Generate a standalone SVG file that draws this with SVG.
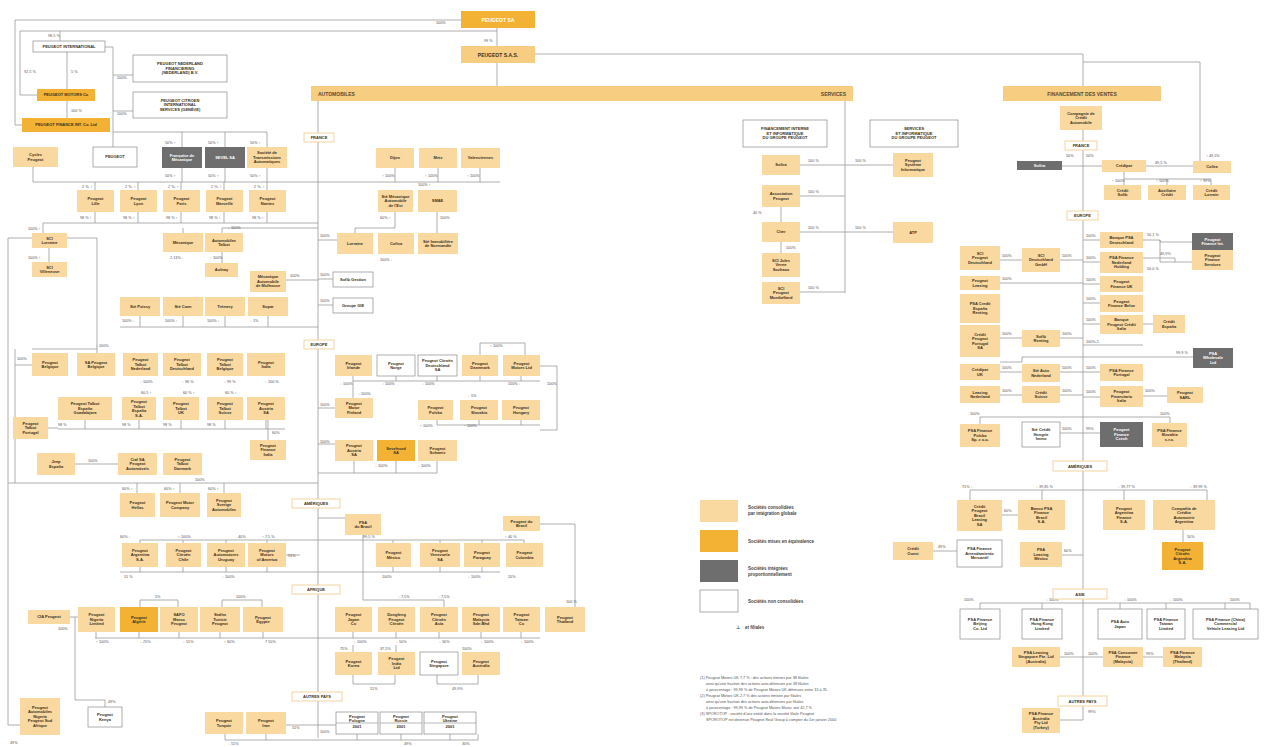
<svg xmlns="http://www.w3.org/2000/svg" width="1265" height="747" viewBox="0 0 1265 747">
<defs>
<marker id="a" viewBox="0 0 6 6" refX="6" refY="3" markerWidth="4" markerHeight="4" orient="auto"><path d="M0,0L6,3L0,6z" fill="#8a8a8a"/></marker>
<style>
.b{fill:#fad9a0}.b2{fill:#f7cd82}.o{fill:#f3b234}.d{fill:#6e6e6e}.w{fill:#fff;stroke:#8a8a8a;stroke-width:.7}
.sec{fill:#fff;stroke:#f2d3a0;stroke-width:1}
text{font-family:"Liberation Sans",Arial,sans-serif}
.t{font-size:4px;fill:#3a3020;text-anchor:middle;font-weight:bold}
.tw{fill:#fff}
.h{font-size:5px;font-weight:bold;fill:#5a4a30}
.p{font-size:3.8px;fill:#555}
.c{fill:none;stroke:#9a9a9a;stroke-width:.8}
.lg{font-size:4.5px;fill:#444;font-weight:bold}
.fn{font-size:3.8px;fill:#555}
</style>
</defs>
<rect width="1265" height="747" fill="#fff"/>

<g id="connectors">
<path class="c" d="M461,20H15V125H22"/>
<path class="c" d="M497,28V46M497,63V86"/>
<path class="c" d="M535,54H1083V86"/>
<path class="c" d="M1083,62H1200V161"/>
<path class="c" d="M497,31H20V95H37"/>
<path class="c" d="M60,31V41M67,52V89M67,101V118"/>
<path class="c" d="M105,47H113V147M113,75H133M113,111H133"/>
<path class="c" d="M113,132H267M182,132V147M225,132V147M267,132V147"/>
<path class="c" d="M33,167V182H500M95,182V190M138,182V190M181,182V190M224,182V190M267,182V190M182,182V168M225,182V168M267,182V168M395,182V168M438,182V168M480,182V168"/>
<path class="c" d="M43,223H318M95,223V212M138,223V212M181,223V212M224,223V212M267,223V212M43,223V233M49,248V262"/>
<path class="c" d="M8,238H97V353M8,238V725H20"/>
<path class="c" d="M15,349V483M15,365H32"/>
<path class="c" d="M318,228H222V233M222,252V263M183,228V233M318,280H286"/>
<path class="c" d="M120,327H318M140,327V316M183,327V316M225,327V316M268,327V316"/>
<path class="c" d="M318,101V738"/>
<path class="c" d="M318,240H337M437,212V233M395,212V228H355V233M318,279H333M318,305H333"/>
<path class="c" d="M845,101V293M845,165H800M845,196H800M845,232H800M845,292H800M845,165H893M845,232H893M781,207V222M781,242V253"/>
<path class="c" d="M1083,130V720"/>
<path class="c" d="M1083,166H1062M1083,166H1102M1146,166H1193M1124,172V179H1211V185M1124,179V185M1167,179V185"/>
<path class="c" d="M1083,240H1100M1083,262H1100M1083,284H1100M1083,303H1100M1083,324H1100M1083,372H1100M1083,397H1100M1083,345H1143"/>
<path class="c" d="M1143,240H1160V242H1192M1160,240V262H1192M1143,258H1175V262"/>
<path class="c" d="M1143,324H1153M1143,396H1167"/>
<path class="c" d="M1083,260H1060M1022,260H1000M1083,283H1000M1083,338H1060M1022,338H1000M1083,372H1060M1022,372H1000M1083,395H1060M1022,395H1000"/>
<path class="c" d="M1000,362H1022V357H1193"/>
<path class="c" d="M980,424V417H1170V423M1083,433H1060M1083,433H1100"/>
<path class="c" d="M970,500V490H1207V500M1042,490V500M1124,490V500M1002,515H1018M933,551H957M1062,555H1083M1183,530V542"/>
<path class="c" d="M980,609V603H1250V609M1042,603V609M1120,603V609M1166,603V609M1225,603V609"/>
<path class="c" d="M1060,657H1103M1143,657H1163M1083,720H1060"/>
<path class="c" d="M32,349H97M353,381H540M353,376V381M396,376V381M437,376V381M480,376V381M521,376V381M480,343H525V355M480,343V355M540,366H557V430H540"/>
<path class="c" d="M58,429H285M85,420V429M139,420V429M181,420V429M225,420V429M266,420V429M268,420V440M48,428H58"/>
<path class="c" d="M75,464H118M8,483H318M137,483V493M180,483V493M224,483V493"/>
<path class="c" d="M353,381V398M318,408H335M437,425H540M437,420V425M479,420V425M521,420V425M318,444H335M318,473H437M354,461V473M396,461V473M437,461V473"/>
<path class="c" d="M318,518H345M363,535V540H140V543M183,540V543M226,540V543M267,540V543M363,540H524V543M393,540V543M440,540V543M482,540V543"/>
<path class="c" d="M540,524H575V607M363,540V600H444V607"/>
<path class="c" d="M120,572H500M140,567V572M183,567V572M226,567V572M267,567V572M393,567V572M440,567V572M482,567V572M300,555H286"/>
<path class="c" d="M70,617H78M75,617V700H105V707"/>
<path class="c" d="M95,638H540M96,632V638M139,632V638M179,632V638M220,632V638M263,632V638M353,632V638M396,632V638M439,632V638M481,632V638M521,632V638"/>
<path class="c" d="M140,600H178V607M140,600V607M222,600H262V607M222,600V607"/>
<path class="c" d="M353,675V684H395V675M437,675V684H478V675M353,645V652M396,645V652"/>
<path class="c" d="M318,725H286M318,725H336M225,734V740H478V734M266,734V740M357,734V740M401,734V740M450,734V740"/>
</g>

<g id="pct">
<text class="p" x="436" y="24">100%</text><text class="p" x="484" y="42">99 %</text>
<text class="p" x="48" y="37">98,5 %</text><text class="p" x="24" y="73">92,5 %</text><text class="p" x="71" y="73">5 %</text><text class="p" x="71" y="112">100 %</text>
<text class="p" x="117" y="79">100%</text><text class="p" x="117" y="115">100%</text>
<text class="p" x="165" y="144">50% ↑</text><text class="p" x="208" y="144">50% ↑</text><text class="p" x="250" y="144">50% ↑</text>
<text class="p" x="165" y="177">50% ↑</text><text class="p" x="208" y="177">50% ↑</text><text class="p" x="250" y="177">50% ↑</text>
<text class="p" x="82" y="188">2 %, ↑</text><text class="p" x="125" y="188">2 %, ↑</text><text class="p" x="168" y="188">2 %, ↑</text><text class="p" x="211" y="188">2 %, ↑</text><text class="p" x="254" y="188">2 %, ↑</text>
<text class="p" x="80" y="219">98 % ↑</text><text class="p" x="123" y="219">98 % ↑</text><text class="p" x="166" y="219">98 % ↑</text><text class="p" x="209" y="219">98 % ↑</text><text class="p" x="252" y="219">98 % ↑</text>
<text class="p" x="28" y="230">100% ↑</text><text class="p" x="28" y="259">100% ↑</text>
<text class="p" x="228" y="229">↓ 100%</text><text class="p" x="170" y="259">2,13% ↓</text><text class="p" x="210" y="259">↓ 100%</text><text class="p" x="290" y="277">100%</text>
<text class="p" x="122" y="322">100% ↓</text><text class="p" x="165" y="322">100% ↓</text><text class="p" x="207" y="322">100% ↓</text><text class="p" x="250" y="322">↓ 1%</text>
<text class="p" x="382" y="177">↑ 100%</text><text class="p" x="425" y="177">↑ 100%</text><text class="p" x="467" y="177">↑ 100%</text>
<text class="p" x="418" y="186">100% ↑</text><text class="p" x="380" y="219">60% ↑</text><text class="p" x="440" y="219">100%</text>
<text class="p" x="320" y="237">100%</text><text class="p" x="380" y="261">100% ↓</text>
<text class="p" x="320" y="276">100%</text><text class="p" x="320" y="302">100%</text>
<text class="p" x="808" y="162">100 %</text><text class="p" x="808" y="193">100 %</text><text class="p" x="808" y="229">100 %</text><text class="p" x="808" y="289">100 %</text>
<text class="p" x="855" y="162">100 %</text><text class="p" x="855" y="229">100 %</text><text class="p" x="753" y="214">40 %</text><text class="p" x="786" y="249">100%</text>
<text class="p" x="1066" y="157">50%</text><text class="p" x="1086" y="157">50%</text><text class="p" x="1155" y="164">49,5 %</text><text class="p" x="1206" y="157">↑ 49,5%</text>
<text class="p" x="1112" y="182">↑ 100%</text><text class="p" x="1156" y="182">↑ 100%</text><text class="p" x="1200" y="182">↑ 99%</text>
<text class="p" x="1086" y="237">100%</text><text class="p" x="1086" y="259">100%</text><text class="p" x="1086" y="281">100%</text><text class="p" x="1086" y="300">100%</text><text class="p" x="1086" y="321">100%</text>
<text class="p" x="1147" y="236">50,1 %</text><text class="p" x="1160" y="255">49,9%</text><text class="p" x="1147" y="270">50,0 %</text>
<text class="p" x="1062" y="257">100%</text><text class="p" x="1002" y="257">100%</text><text class="p" x="1002" y="280">100%</text><text class="p" x="1062" y="335">100%</text><text class="p" x="1002" y="335">100%</text>
<text class="p" x="1062" y="369">100%</text><text class="p" x="1002" y="369">100%</text><text class="p" x="1062" y="392">100%</text><text class="p" x="1002" y="392">100%</text>
<text class="p" x="1086" y="369">100%</text><text class="p" x="1086" y="393">100%</text><text class="p" x="1145" y="392">100%</text><text class="p" x="1176" y="354">99,9 %</text>
<text class="p" x="1086" y="343">100%,1</text><text class="p" x="970" y="415">100%</text><text class="p" x="1160" y="415">100%</text>
<text class="p" x="1062" y="430">100%</text><text class="p" x="1086" y="430">99%</text>
<text class="p" x="962" y="488">71% ↓</text><text class="p" x="1036" y="488">↓ 39,85 %</text><text class="p" x="1118" y="488">↓ 39,77 %</text><text class="p" x="1190" y="488">↓ 39,99 %</text>
<text class="p" x="1004" y="512">60%</text><text class="p" x="938" y="548">49%</text><text class="p" x="1064" y="552">60%</text><text class="p" x="1187" y="538">50%</text>
<text class="p" x="964" y="601">100%</text><text class="p" x="1046" y="601">↓ 100%</text><text class="p" x="1124" y="601">↓ 100%</text><text class="p" x="1170" y="601">↓ 100%</text><text class="p" x="1230" y="601">100%</text>
<text class="p" x="1064" y="655">100%</text><text class="p" x="1088" y="655">100%</text><text class="p" x="1146" y="655">99%</text><text class="p" x="1088" y="713">99%</text>
<text class="p" x="96" y="347">↓ 100%</text><text class="p" x="17" y="360">100%</text>
<text class="p" x="140" y="383">↓ 100%</text><text class="p" x="182" y="383">↓ 96 %</text><text class="p" x="224" y="383">↓ 99 %</text><text class="p" x="265" y="383">↓ 100 %</text>
<text class="p" x="141" y="394">60,5 ↑</text><text class="p" x="183" y="394">60 % ↑</text><text class="p" x="225" y="394">60 % ↑</text>
<text class="p" x="58" y="426">98 %</text><text class="p" x="122" y="426">98 %</text><text class="p" x="163" y="426">98 %</text><text class="p" x="207" y="426">98 %</text>
<text class="p" x="272" y="434">60%</text><text class="p" x="88" y="462">100%</text>
<text class="p" x="122" y="490">60% ↑</text><text class="p" x="164" y="490">60% ↑</text><text class="p" x="208" y="490">60% ↑</text><text class="p" x="195" y="481">100%</text>
<text class="p" x="490" y="347">↑ 100%</text><text class="p" x="340" y="385">↓ 100%</text><text class="p" x="382" y="385">↓ 100%</text><text class="p" x="422" y="385">↓ 100%</text><text class="p" x="508" y="385">100% ↓</text>
<text class="p" x="358" y="395">↓ 100%</text><text class="p" x="547" y="385">100%</text><text class="p" x="468" y="397">↓ 5%</text>
<text class="p" x="420" y="427">↑ 100%</text><text class="p" x="464" y="427">↑ 100%</text><text class="p" x="320" y="406">100%</text>
<text class="p" x="320" y="443">100%</text><text class="p" x="375" y="467">↓ 100%</text><text class="p" x="418" y="467">↓ 100%</text>
<text class="p" x="120" y="538">60% ↓</text><text class="p" x="178" y="538">↑ 100%</text><text class="p" x="238" y="538">40%</text><text class="p" x="262" y="538">↑ 7,5 %</text>
<text class="p" x="288" y="557">51%</text><text class="p" x="363" y="538">99,5 %</text><text class="p" x="505" y="538">↑ 40 %</text>
<text class="p" x="124" y="578">51 %</text><text class="p" x="222" y="578">↓ 100%</text><text class="p" x="382" y="578">100%</text><text class="p" x="468" y="578">↓ 100%</text><text class="p" x="508" y="578">20%</text>
<text class="p" x="155" y="598">1%</text><text class="p" x="236" y="598">100%</text><text class="p" x="566" y="603">100 %</text><text class="p" x="398" y="598">↓ 7,5%</text><text class="p" x="438" y="598">↓ 7,5%</text>
<text class="p" x="58" y="630">100%</text><text class="p" x="96" y="643">↑ 100%</text><text class="p" x="140" y="643">↓ 25%</text><text class="p" x="183" y="643">↓ 51%</text><text class="p" x="224" y="643">↑ 60%</text><text class="p" x="265" y="643">7 50%</text>
<text class="p" x="354" y="643">↓ 100%</text><text class="p" x="396" y="643">↓ 50%</text><text class="p" x="439" y="643">↓ 30%</text><text class="p" x="481" y="643">↓ 100%</text><text class="p" x="521" y="643">↓ 100%</text>
<text class="p" x="340" y="650">75%</text><text class="p" x="380" y="650">37,5%</text><text class="p" x="462" y="650">100%</text>
<text class="p" x="370" y="690">51%</text><text class="p" x="452" y="690">49,9%</text>
<text class="p" x="108" y="703">49%</text><text class="p" x="10" y="744">49%</text>
<text class="p" x="292" y="729">51%</text><text class="p" x="320" y="733">100%</text><text class="p" x="228" y="745">↓ 51%</text><text class="p" x="404" y="745">49%</text><text class="p" x="462" y="745">30%</text>
</g>

<g id="n_psa"><rect class="o" x="461" y="11" width="74" height="17"/><text class="t tw" x="498" y="21.8" style="font-size:5px">PEUGEOT SA</text></g>
<g id="n_psas"><rect class="b2" x="461" y="46" width="74" height="17"/><text class="t" x="498" y="56.8" style="font-size:5px">PEUGEOT S.A.S.</text></g>
<g id="n_pint"><rect class="w" x="33" y="41" width="72" height="11"/><text class="t" x="69" y="48">PEUGEOT INTERNATIONAL</text></g>
<g id="n_pmot"><rect class="o" x="37" y="89" width="58" height="12"/><text class="t" x="66" y="96.4">PEUGEOT MOTORS Co</text></g>
<g id="n_pfin"><rect class="o" x="22" y="118" width="88" height="14"/><text class="t" x="66" y="126.4">PEUGEOT FINANCE INT. Co. Ltd</text></g>
<g id="n_pned"><rect class="w" x="133" y="55" width="94" height="27"/><text class="t" x="180" y="65.4">PEUGEOT NEDERLAND<tspan x="180" dy="4.5">FINANCIERING</tspan><tspan x="180" dy="4.5">(NEDERLAND) B.V.</tspan></text></g>
<g id="n_pcis"><rect class="w" x="133" y="92" width="94" height="26"/><text class="t" x="180" y="101.9">PEUGEOT CITROËN<tspan x="180" dy="4.5">INTERNATIONAL</tspan><tspan x="180" dy="4.5">SERVICES (GENÈVE)</tspan></text></g>

<g id="n_bar_auto"><rect class="b2" x="311" y="86" width="542" height="15"/><text class="h" x="318" y="95.5">AUTOMOBILES</text><text class="h" x="846" y="95.5" text-anchor="end">SERVICES</text></g>
<g id="n_bar_fin"><rect class="b2" x="1003" y="86" width="158" height="15"/><text class="h" x="1082" y="95.5" text-anchor="middle">FINANCEMENT DES VENTES</text></g>

<g id="sec_fr"><rect class="sec" x="304" y="133" width="30" height="9"/><text class="t" x="319" y="139.4">FRANCE</text></g>
<g id="sec_eu"><rect class="sec" x="304" y="340" width="30" height="9"/><text class="t" x="319" y="346.4">EUROPE</text></g>
<g id="sec_am"><rect class="sec" x="292" y="499" width="48" height="9"/><text class="t" x="316" y="505.4">AMÉRIQUES</text></g>
<g id="sec_af"><rect class="sec" x="292" y="585" width="48" height="9"/><text class="t" x="316" y="591.4">AFRIQUE</text></g>
<g id="sec_ap"><rect class="sec" x="292" y="692" width="50" height="9"/><text class="t" x="317" y="698.4">AUTRES PAYS</text></g>
<g id="sec_fr2"><rect class="sec" x="1065" y="141" width="32" height="9"/><text class="t" x="1081" y="147.4">FRANCE</text></g>
<g id="sec_eu2"><rect class="sec" x="1067" y="211" width="31" height="9"/><text class="t" x="1082.5" y="217.4">EUROPE</text></g>
<g id="sec_am2"><rect class="sec" x="1053" y="461" width="54" height="10"/><text class="t" x="1080" y="467.9">AMÉRIQUES</text></g>
<g id="sec_as2"><rect class="sec" x="1053" y="589" width="54" height="10"/><text class="t" x="1080" y="595.9">ASIE</text></g>
<g id="sec_ap2"><rect class="sec" x="1058" y="696" width="49" height="10"/><text class="t" x="1082.5" y="702.9">AUTRES PAYS</text></g>

<g id="n_a1"><rect class="b" x="13" y="147" width="45" height="20"/><text class="t" x="35.5" y="156.2">Cycles<tspan x="35.5" dy="4.5">Peugeot</tspan></text></g>
<g id="n_a2"><rect class="w" x="93" y="147" width="44" height="20"/><text class="t" x="115" y="158.4">PEUGEOT</text></g>
<g id="n_a3"><rect class="d" x="162" y="147" width="40" height="21"/><text class="t tw" x="182" y="156.7">Française de<tspan x="182" dy="4.5">Mécanique</tspan></text></g>
<g id="n_a4"><rect class="d" x="205" y="147" width="40" height="21"/><text class="t tw" x="225" y="158.9">SEVEL SA</text></g>
<g id="n_a5"><rect class="b" x="247" y="147" width="40" height="21"/><text class="t" x="267" y="154.4">Société de<tspan x="267" dy="4.5">Transmissions</tspan><tspan x="267" dy="4.5">Automatiques</tspan></text></g>

<g id="n_p1"><rect class="b" x="77" y="190" width="37" height="22"/><text class="t" x="95.5" y="200.2">Peugeot<tspan x="95.5" dy="4.5">Lille</tspan></text></g>
<g id="n_p2"><rect class="b" x="120" y="190" width="37" height="22"/><text class="t" x="138.5" y="200.2">Peugeot<tspan x="138.5" dy="4.5">Lyon</tspan></text></g>
<g id="n_p3"><rect class="b" x="163" y="190" width="37" height="22"/><text class="t" x="181.5" y="200.2">Peugeot<tspan x="181.5" dy="4.5">Paris</tspan></text></g>
<g id="n_p4"><rect class="b" x="206" y="190" width="37" height="22"/><text class="t" x="224.5" y="200.2">Peugeot<tspan x="224.5" dy="4.5">Marseille</tspan></text></g>
<g id="n_p5"><rect class="b" x="249" y="190" width="37" height="22"/><text class="t" x="267.5" y="200.2">Peugeot<tspan x="267.5" dy="4.5">Nantes</tspan></text></g>

<g id="n_s1"><rect class="b" x="32" y="233" width="35" height="15"/><text class="t" x="49.5" y="239.7">SCI<tspan x="49.5" dy="4.5">Lorraine</tspan></text></g>
<g id="n_s2"><rect class="b" x="32" y="262" width="35" height="15"/><text class="t" x="49.5" y="268.7">SCI<tspan x="49.5" dy="4.5">Villeneuve</tspan></text></g>
<g id="n_m1"><rect class="b" x="163" y="233" width="40" height="19"/><text class="t" x="183" y="244">Mécanique</text></g>
<g id="n_m2"><rect class="b" x="205" y="233" width="38" height="19"/><text class="t" x="224" y="241.7">Automobiles<tspan x="224" dy="4.5">Talbot</tspan></text></g>
<g id="n_m3"><rect class="b" x="205" y="263" width="33" height="14"/><text class="t" x="221.5" y="271.4">Aulnay</text></g>
<g id="n_m4"><rect class="b" x="250" y="271" width="36" height="21"/><text class="t" x="268" y="278.4">Mécanique<tspan x="268" dy="4.5">Automobile</tspan><tspan x="268" dy="4.5">de Mulhouse</tspan></text></g>
<g id="n_r1"><rect class="b" x="120" y="297" width="40" height="19"/><text class="t" x="140" y="307.9">Sté Poissy</text></g>
<g id="n_r2"><rect class="b" x="163" y="297" width="40" height="19"/><text class="t" x="183" y="307.9">Sté Caen</text></g>
<g id="n_r3"><rect class="b" x="205" y="297" width="40" height="19"/><text class="t" x="225" y="307.9">Trémery</text></g>
<g id="n_r4"><rect class="b" x="248" y="297" width="40" height="19"/><text class="t" x="268" y="307.9">Sopar</text></g>

<g id="n_f1"><rect class="b" x="376" y="148" width="38" height="20"/><text class="t" x="395" y="159.4">Dijon</text></g>
<g id="n_f2"><rect class="b" x="419" y="148" width="38" height="20"/><text class="t" x="438" y="159.4">Metz</text></g>
<g id="n_f3"><rect class="b" x="461" y="148" width="39" height="20"/><text class="t" x="480.5" y="159.4">Valenciennes</text></g>
<g id="n_f4"><rect class="b" x="378" y="190" width="35" height="22"/><text class="t" x="395.5" y="197.9">Sté Mécanique<tspan x="395.5" dy="4.5">Automobile</tspan><tspan x="395.5" dy="4.5">de l'Est</tspan></text></g>
<g id="n_f5"><rect class="b" x="418" y="190" width="39" height="22"/><text class="t" x="437.5" y="202.4">SMAE</text></g>
<g id="n_f6"><rect class="b" x="337" y="233" width="36" height="21"/><text class="t" x="355" y="244.9">Lorraine</text></g>
<g id="n_f7"><rect class="b" x="378" y="233" width="36" height="21"/><text class="t" x="396" y="244.9">Cofiva</text></g>
<g id="n_f8"><rect class="b" x="418" y="233" width="40" height="21"/><text class="t" x="438" y="242.7">Sté Immobilière<tspan x="438" dy="4.5">de Normandie</tspan></text></g>
<g id="n_f9"><rect class="w" x="333" y="272" width="40" height="15"/><text class="t" x="353" y="280.9">Sofib Gestion</text></g>
<g id="n_f10"><rect class="w" x="333" y="298" width="40" height="15"/><text class="t" x="353" y="306.9">Groupe GIE</text></g>

<g id="n_c1"><rect class="w" x="743" y="120" width="84" height="27"/><text class="t" x="785" y="130.4">FINANCEMENT INTERNE<tspan x="785" dy="4.5">ET INFORMATIQUE</tspan><tspan x="785" dy="4.5">DU GROUPE PEUGEOT</tspan></text></g>
<g id="n_c2"><rect class="w" x="870" y="120" width="88" height="27"/><text class="t" x="914" y="130.4">SERVICES<tspan x="914" dy="4.5">ET INFORMATIQUE</tspan><tspan x="914" dy="4.5">DU GROUPE PEUGEOT</tspan></text></g>
<g id="n_c3"><rect class="b" x="762" y="155" width="38" height="20"/><text class="t" x="781" y="166.4">Sofira</text></g>
<g id="n_c4"><rect class="b" x="762" y="185" width="38" height="22"/><text class="t" x="781" y="195.2">Association<tspan x="781" dy="4.5">Peugeot</tspan></text></g>
<g id="n_c5"><rect class="b" x="762" y="222" width="38" height="20"/><text class="t" x="781" y="233.4">Citer</text></g>
<g id="n_c6"><rect class="b" x="762" y="253" width="38" height="24"/><text class="t" x="781" y="261.9">SCI Jules<tspan x="781" dy="4.5">Verne</tspan><tspan x="781" dy="4.5">Sochaux</tspan></text></g>
<g id="n_c7"><rect class="b" x="762" y="282" width="38" height="22"/><text class="t" x="781" y="289.9">SCI<tspan x="781" dy="4.5">Peugeot</tspan><tspan x="781" dy="4.5">Montbéliard</tspan></text></g>
<g id="n_c8"><rect class="b" x="893" y="153" width="40" height="24"/><text class="t" x="913" y="161.9">Peugeot<tspan x="913" dy="4.5">Système</tspan><tspan x="913" dy="4.5">Informatique</tspan></text></g>
<g id="n_c9"><rect class="b" x="893" y="222" width="40" height="21"/><text class="t" x="913" y="233.9">ATP</text></g>

<g id="n_r0"><rect class="b" x="1060" y="106" width="42" height="24"/><text class="t" x="1081" y="114.9">Compagnie de<tspan x="1081" dy="4.5">Crédit</tspan><tspan x="1081" dy="4.5">Automobile</tspan></text></g>
<g id="n_rd1"><rect class="d" x="1017" y="161" width="45" height="9"/><text class="t tw" x="1039.5" y="166.9">Sofira</text></g>
<g id="n_rb1"><rect class="b" x="1102" y="160" width="44" height="12"/><text class="t" x="1124" y="167.4">Crédipar</text></g>
<g id="n_rb2"><rect class="b" x="1193" y="161" width="38" height="12"/><text class="t" x="1212" y="168.4">Cofira</text></g>
<g id="n_rb3"><rect class="b" x="1104" y="185" width="37" height="15"/><text class="t" x="1122.5" y="191.7">Crédit<tspan x="1122.5" dy="4.5">Sofib</tspan></text></g>
<g id="n_rb4"><rect class="b" x="1148" y="185" width="38" height="15"/><text class="t" x="1167" y="191.7">Auxiliaire<tspan x="1167" dy="4.5">Crédit</tspan></text></g>
<g id="n_rb5"><rect class="b" x="1193" y="185" width="37" height="15"/><text class="t" x="1211.5" y="191.7">Crédit<tspan x="1211.5" dy="4.5">Lorrain</tspan></text></g>

<g id="n_e1"><rect class="b" x="1100" y="232" width="43" height="16"/><text class="t" x="1121.5" y="239.2">Banque PSA<tspan x="1121.5" dy="4.5">Deutschland</tspan></text></g>
<g id="n_e2"><rect class="b" x="1100" y="252" width="43" height="21"/><text class="t" x="1121.5" y="259.4">PSA Finance<tspan x="1121.5" dy="4.5">Nederland</tspan><tspan x="1121.5" dy="4.5">Holding</tspan></text></g>
<g id="n_e3"><rect class="b" x="1100" y="276" width="43" height="16"/><text class="t" x="1121.5" y="283.2">Peugeot<tspan x="1121.5" dy="4.5">Finance UK</tspan></text></g>
<g id="n_e4"><rect class="b" x="1100" y="295" width="43" height="17"/><text class="t" x="1121.5" y="302.7">Peugeot<tspan x="1121.5" dy="4.5">Finance Belux</tspan></text></g>
<g id="n_e5"><rect class="b" x="1100" y="315" width="43" height="19"/><text class="t" x="1121.5" y="321.4">Banque<tspan x="1121.5" dy="4.5">Peugeot Crédit</tspan><tspan x="1121.5" dy="4.5">Italia</tspan></text></g>
<g id="n_e6"><rect class="b" x="1100" y="364" width="43" height="17"/><text class="t" x="1121.5" y="371.7">PSA Finance<tspan x="1121.5" dy="4.5">Portugal</tspan></text></g>
<g id="n_e7"><rect class="b" x="1100" y="386" width="43" height="21"/><text class="t" x="1121.5" y="393.4">Peugeot<tspan x="1121.5" dy="4.5">Finanziaria</tspan><tspan x="1121.5" dy="4.5">Italia</tspan></text></g>
<g id="n_e8"><rect class="d" x="1192" y="233" width="41" height="17"/><text class="t tw" x="1212.5" y="240.7">Peugeot<tspan x="1212.5" dy="4.5">Finance Int.</tspan></text></g>
<g id="n_e9"><rect class="b" x="1192" y="250" width="41" height="20"/><text class="t" x="1212.5" y="256.9">Peugeot<tspan x="1212.5" dy="4.5">Finance</tspan><tspan x="1212.5" dy="4.5">Services</tspan></text></g>
<g id="n_e10"><rect class="b" x="1153" y="315" width="32" height="18"/><text class="t" x="1169" y="323.2">Crédit<tspan x="1169" dy="4.5">España</tspan></text></g>
<g id="n_e11"><rect class="d" x="1193" y="348" width="40" height="20"/><text class="t tw" x="1213" y="354.9">PSA<tspan x="1213" dy="4.5">Wholesale</tspan><tspan x="1213" dy="4.5">Ltd</tspan></text></g>
<g id="n_e12"><rect class="b" x="1167" y="387" width="36" height="16"/><text class="t" x="1185" y="394.2">Peugeot<tspan x="1185" dy="4.5">SARL</tspan></text></g>
<g id="n_l1"><rect class="b" x="960" y="246" width="40" height="24"/><text class="t" x="980" y="254.9">SCI<tspan x="980" dy="4.5">Peugeot</tspan><tspan x="980" dy="4.5">Deutschland</tspan></text></g>
<g id="n_l2"><rect class="b" x="960" y="276" width="40" height="14"/><text class="t" x="980" y="282.2">Peugeot<tspan x="980" dy="4.5">Leasing</tspan></text></g>
<g id="n_l3"><rect class="b" x="960" y="294" width="40" height="29"/><text class="t" x="980" y="305.4">PSA Credit<tspan x="980" dy="4.5">España</tspan><tspan x="980" dy="4.5">Renting</tspan></text></g>
<g id="n_l4"><rect class="b" x="960" y="325" width="40" height="32"/><text class="t" x="980" y="335.7">Crédit<tspan x="980" dy="4.5">Peugeot</tspan><tspan x="980" dy="4.5">Portugal</tspan><tspan x="980" dy="4.5">SA</tspan></text></g>
<g id="n_l5"><rect class="b" x="960" y="364" width="40" height="16"/><text class="t" x="980" y="371.2">Crédipar<tspan x="980" dy="4.5">UK</tspan></text></g>
<g id="n_l6"><rect class="b" x="960" y="386" width="40" height="17"/><text class="t" x="980" y="393.7">Leasing<tspan x="980" dy="4.5">Nederland</tspan></text></g>
<g id="n_l7"><rect class="b" x="960" y="424" width="40" height="23"/><text class="t" x="980" y="432.4">PSA Finance<tspan x="980" dy="4.5">Polska</tspan><tspan x="980" dy="4.5">Sp. z o.o.</tspan></text></g>
<g id="n_k1"><rect class="b" x="1022" y="248" width="38" height="24"/><text class="t" x="1041" y="256.9">SCI<tspan x="1041" dy="4.5">Deutschland</tspan><tspan x="1041" dy="4.5">GmbH</tspan></text></g>
<g id="n_k2"><rect class="b" x="1022" y="330" width="38" height="17"/><text class="t" x="1041" y="337.7">Sofib<tspan x="1041" dy="4.5">Renting</tspan></text></g>
<g id="n_k3"><rect class="b" x="1022" y="364" width="38" height="18"/><text class="t" x="1041" y="372.2">Sté Auto<tspan x="1041" dy="4.5">Nederland</tspan></text></g>
<g id="n_k4"><rect class="b" x="1022" y="386" width="38" height="17"/><text class="t" x="1041" y="393.7">Crédit<tspan x="1041" dy="4.5">Suisse</tspan></text></g>
<g id="n_k5"><rect class="w" x="1022" y="422" width="38" height="25"/><text class="t" x="1041" y="431.4">Sté Crédit<tspan x="1041" dy="4.5">Hongrie</tspan><tspan x="1041" dy="4.5">Immo</tspan></text></g>
<g id="n_d1"><rect class="d" x="1100" y="422" width="43" height="25"/><text class="t tw" x="1121.5" y="431.4">Peugeot<tspan x="1121.5" dy="4.5">Finance</tspan><tspan x="1121.5" dy="4.5">Czech</tspan></text></g>
<g id="n_e13"><rect class="b" x="1152" y="423" width="35" height="24"/><text class="t" x="1169.5" y="431.9">PSA Finance<tspan x="1169.5" dy="4.5">Slovakia</tspan><tspan x="1169.5" dy="4.5">s.r.o.</tspan></text></g>

<g id="n_am1"><rect class="b" x="957" y="500" width="45" height="31"/><text class="t" x="979.5" y="507.9">Crédit<tspan x="979.5" dy="4.5">Peugeot</tspan><tspan x="979.5" dy="4.5">Brasil</tspan><tspan x="979.5" dy="4.5">Leasing</tspan><tspan x="979.5" dy="4.5">SA</tspan></text></g>
<g id="n_am2"><rect class="b" x="1018" y="500" width="47" height="30"/><text class="t" x="1041.5" y="509.7">Banco PSA<tspan x="1041.5" dy="4.5">Finance</tspan><tspan x="1041.5" dy="4.5">Brasil</tspan><tspan x="1041.5" dy="4.5">S.A.</tspan></text></g>
<g id="n_am3"><rect class="b" x="1103" y="500" width="42" height="30"/><text class="t" x="1124" y="509.7">Peugeot<tspan x="1124" dy="4.5">Argentina</tspan><tspan x="1124" dy="4.5">Finance</tspan><tspan x="1124" dy="4.5">S.A.</tspan></text></g>
<g id="n_am4"><rect class="b" x="1153" y="500" width="62" height="30"/><text class="t" x="1184" y="509.7">Compañía de<tspan x="1184" dy="4.5">Crédito</tspan><tspan x="1184" dy="4.5">Automotriz</tspan><tspan x="1184" dy="4.5">Argentina</tspan></text></g>
<g id="n_am5"><rect class="w" x="957" y="540" width="45" height="27"/><text class="t" x="979.5" y="550.4">PSA Finance<tspan x="979.5" dy="4.5">Arrendamiento</tspan><tspan x="979.5" dy="4.5">Mercantil</tspan></text></g>
<g id="n_am6"><rect class="b" x="1020" y="542" width="42" height="25"/><text class="t" x="1041" y="551.4">PSA<tspan x="1041" dy="4.5">Leasing</tspan><tspan x="1041" dy="4.5">México</tspan></text></g>
<g id="n_am7"><rect class="o" x="1162" y="542" width="41" height="28"/><text class="t" x="1182.5" y="550.7">Peugeot<tspan x="1182.5" dy="4.5">Citroën</tspan><tspan x="1182.5" dy="4.5">Argentina</tspan><tspan x="1182.5" dy="4.5">S.A.</tspan></text></g>
<g id="n_am8"><rect class="b" x="893" y="542" width="40" height="18"/><text class="t" x="913" y="550.2">Crédit<tspan x="913" dy="4.5">Ouest</tspan></text></g>

<g id="n_w1"><rect class="w" x="960" y="609" width="40" height="30"/><text class="t" x="980" y="620.9">PSA Finance<tspan x="980" dy="4.5">Beijing</tspan><tspan x="980" dy="4.5">Co. Ltd</tspan></text></g>
<g id="n_w2"><rect class="w" x="1022" y="609" width="40" height="30"/><text class="t" x="1042" y="620.9">PSA Finance<tspan x="1042" dy="4.5">Hong Kong</tspan><tspan x="1042" dy="4.5">Limited</tspan></text></g>
<g id="n_w3"><rect class="w" x="1098" y="609" width="44" height="30"/><text class="t" x="1120" y="623.2">PSA Auto<tspan x="1120" dy="4.5">Japan</tspan></text></g>
<g id="n_w4"><rect class="w" x="1147" y="609" width="38" height="30"/><text class="t" x="1166" y="620.9">PSA Finance<tspan x="1166" dy="4.5">Taiwan</tspan><tspan x="1166" dy="4.5">Limited</tspan></text></g>
<g id="n_w5"><rect class="w" x="1193" y="609" width="65" height="30"/><text class="t" x="1225.5" y="620.9">PSA Finance (China)<tspan x="1225.5" dy="4.5">Commercial</tspan><tspan x="1225.5" dy="4.5">Vehicle Leasing Ltd</tspan></text></g>
<g id="n_bb1"><rect class="b" x="1012" y="647" width="48" height="20"/><text class="t" x="1036" y="653.9">PSA Leasing<tspan x="1036" dy="4.5">Singapore Pte. Ltd</tspan><tspan x="1036" dy="4.5">(Australia)</tspan></text></g>
<g id="n_bb2"><rect class="b" x="1103" y="647" width="40" height="20"/><text class="t" x="1123" y="653.9">PSA Consumer<tspan x="1123" dy="4.5">Finance</tspan><tspan x="1123" dy="4.5">(Malaysia)</tspan></text></g>
<g id="n_bb3"><rect class="b" x="1163" y="647" width="39" height="20"/><text class="t" x="1182.5" y="653.9">PSA Finance<tspan x="1182.5" dy="4.5">Malaysia</tspan><tspan x="1182.5" dy="4.5">(Thailand)</tspan></text></g>
<g id="n_bb4"><rect class="b" x="1022" y="708" width="38" height="25"/><text class="t" x="1041" y="715.2">PSA Finance<tspan x="1041" dy="4.5">Australia</tspan><tspan x="1041" dy="4.5">Pty Ltd</tspan><tspan x="1041" dy="4.5">(Turkey)</tspan></text></g>

<g id="n_g1"><rect class="b" x="32" y="353" width="36" height="23"/><text class="t" x="50" y="363.7">Peugeot<tspan x="50" dy="4.5">Belgique</tspan></text></g>
<g id="n_g2"><rect class="b" x="77" y="353" width="38" height="23"/><text class="t" x="96" y="363.7">SA Peugeot<tspan x="96" dy="4.5">Belgique</tspan></text></g>
<g id="n_g3"><rect class="b" x="123" y="353" width="35" height="23"/><text class="t" x="140.5" y="361.4">Peugeot<tspan x="140.5" dy="4.5">Talbot</tspan><tspan x="140.5" dy="4.5">Nederland</tspan></text></g>
<g id="n_g4"><rect class="b" x="163" y="353" width="38" height="23"/><text class="t" x="182" y="361.4">Peugeot<tspan x="182" dy="4.5">Talbot</tspan><tspan x="182" dy="4.5">Deutschland</tspan></text></g>
<g id="n_g5"><rect class="b" x="207" y="353" width="36" height="23"/><text class="t" x="225" y="361.4">Peugeot<tspan x="225" dy="4.5">Talbot</tspan><tspan x="225" dy="4.5">Belgique</tspan></text></g>
<g id="n_g6"><rect class="b" x="247" y="353" width="38" height="23"/><text class="t" x="266" y="363.7">Peugeot<tspan x="266" dy="4.5">Italia</tspan></text></g>
<g id="n_h1"><rect class="b" x="58" y="397" width="54" height="23"/><text class="t" x="85" y="405.4">Peugeot Talbot<tspan x="85" dy="4.5">España</tspan><tspan x="85" dy="4.5">Guadalajara</tspan></text></g>
<g id="n_h2"><rect class="b" x="122" y="397" width="34" height="23"/><text class="t" x="139" y="403.2">Peugeot<tspan x="139" dy="4.5">Talbot</tspan><tspan x="139" dy="4.5">España</tspan><tspan x="139" dy="4.5">S.A.</tspan></text></g>
<g id="n_h3"><rect class="b" x="163" y="397" width="36" height="23"/><text class="t" x="181" y="405.4">Peugeot<tspan x="181" dy="4.5">Talbot</tspan><tspan x="181" dy="4.5">UK</tspan></text></g>
<g id="n_h4"><rect class="b" x="207" y="397" width="36" height="23"/><text class="t" x="225" y="405.4">Peugeot<tspan x="225" dy="4.5">Talbot</tspan><tspan x="225" dy="4.5">Suisse</tspan></text></g>
<g id="n_h5"><rect class="b" x="247" y="397" width="38" height="23"/><text class="t" x="266" y="405.4">Peugeot<tspan x="266" dy="4.5">Austria</tspan><tspan x="266" dy="4.5">SA</tspan></text></g>
<g id="n_h6"><rect class="b" x="13" y="417" width="35" height="22"/><text class="t" x="30.5" y="424.9">Peugeot<tspan x="30.5" dy="4.5">Talbot</tspan><tspan x="30.5" dy="4.5">Portugal</tspan></text></g>
<g id="n_h7"><rect class="b" x="250" y="440" width="36" height="20"/><text class="t" x="268" y="446.9">Peugeot<tspan x="268" dy="4.5">Finance</tspan><tspan x="268" dy="4.5">Italia</tspan></text></g>
<g id="n_j1"><rect class="b" x="37" y="453" width="38" height="22"/><text class="t" x="56" y="463.2">Jeep<tspan x="56" dy="4.5">España</tspan></text></g>
<g id="n_j2"><rect class="b" x="118" y="453" width="39" height="22"/><text class="t" x="137.5" y="460.9">Ciaf SA<tspan x="137.5" dy="4.5">Peugeot</tspan><tspan x="137.5" dy="4.5">Automóveis</tspan></text></g>
<g id="n_j3"><rect class="b" x="163" y="453" width="39" height="22"/><text class="t" x="182.5" y="460.9">Peugeot<tspan x="182.5" dy="4.5">Talbot</tspan><tspan x="182.5" dy="4.5">Danmark</tspan></text></g>
<g id="n_j4"><rect class="b" x="120" y="493" width="35" height="24"/><text class="t" x="137.5" y="504.2">Peugeot<tspan x="137.5" dy="4.5">Hellas</tspan></text></g>
<g id="n_j5"><rect class="b" x="160" y="493" width="40" height="24"/><text class="t" x="180" y="504.2">Peugeot Motor<tspan x="180" dy="4.5">Company</tspan></text></g>
<g id="n_j6"><rect class="b" x="207" y="493" width="34" height="24"/><text class="t" x="224" y="501.9">Peugeot<tspan x="224" dy="4.5">Sverige</tspan><tspan x="224" dy="4.5">Automobiles</tspan></text></g>

<g id="n_q1"><rect class="b" x="335" y="355" width="37" height="21"/><text class="t" x="353.5" y="364.7">Peugeot<tspan x="353.5" dy="4.5">Irlande</tspan></text></g>
<g id="n_q2"><rect class="w" x="377" y="355" width="38" height="21"/><text class="t" x="396" y="364.7">Peugeot<tspan x="396" dy="4.5">Norge</tspan></text></g>
<g id="n_q3"><rect class="w" x="418" y="355" width="39" height="21"/><text class="t" x="437.5" y="362.4">Peugeot Citroën<tspan x="437.5" dy="4.5">Deutschland</tspan><tspan x="437.5" dy="4.5">SA</tspan></text></g>
<g id="n_q4"><rect class="b" x="462" y="355" width="36" height="21"/><text class="t" x="480" y="364.7">Peugeot<tspan x="480" dy="4.5">Danemark</tspan></text></g>
<g id="n_q5"><rect class="b" x="503" y="355" width="37" height="21"/><text class="t" x="521.5" y="364.7">Peugeot<tspan x="521.5" dy="4.5">Motors Ltd</tspan></text></g>
<g id="n_q6"><rect class="b" x="335" y="398" width="38" height="20"/><text class="t" x="354" y="404.9">Peugeot<tspan x="354" dy="4.5">Motor</tspan><tspan x="354" dy="4.5">Finland</tspan></text></g>
<g id="n_q7"><rect class="b" x="418" y="400" width="35" height="20"/><text class="t" x="435.5" y="409.2">Peugeot<tspan x="435.5" dy="4.5">Polska</tspan></text></g>
<g id="n_q8"><rect class="b" x="460" y="400" width="38" height="20"/><text class="t" x="479" y="409.2">Peugeot<tspan x="479" dy="4.5">Slovakia</tspan></text></g>
<g id="n_q9"><rect class="b" x="502" y="400" width="38" height="20"/><text class="t" x="521" y="409.2">Peugeot<tspan x="521" dy="4.5">Hungary</tspan></text></g>
<g id="n_q10"><rect class="b" x="335" y="440" width="38" height="21"/><text class="t" x="354" y="447.4">Peugeot<tspan x="354" dy="4.5">Austria</tspan><tspan x="354" dy="4.5">SA</tspan></text></g>
<g id="n_q11"><rect class="o" x="377" y="440" width="38" height="21"/><text class="t" x="396" y="449.7">Sevelnord<tspan x="396" dy="4.5">SA</tspan></text></g>
<g id="n_q12"><rect class="b" x="418" y="440" width="39" height="21"/><text class="t" x="437.5" y="449.7">Peugeot<tspan x="437.5" dy="4.5">Schweiz</tspan></text></g>

<g id="n_u1"><rect class="b" x="345" y="514" width="36" height="21"/><text class="t" x="363" y="523.7">PSA<tspan x="363" dy="4.5">do Brasil</tspan></text></g>
<g id="n_u2"><rect class="b" x="503" y="516" width="37" height="15"/><text class="t" x="521.5" y="522.7">Peugeot do<tspan x="521.5" dy="4.5">Brasil</tspan></text></g>
<g id="n_u3"><rect class="b" x="122" y="543" width="36" height="24"/><text class="t" x="140" y="551.9">Peugeot<tspan x="140" dy="4.5">Argentina</tspan><tspan x="140" dy="4.5">S.A.</tspan></text></g>
<g id="n_u4"><rect class="b" x="166" y="543" width="35" height="24"/><text class="t" x="183.5" y="551.9">Peugeot<tspan x="183.5" dy="4.5">Citroën</tspan><tspan x="183.5" dy="4.5">Chile</tspan></text></g>
<g id="n_u5"><rect class="b" x="207" y="543" width="38" height="24"/><text class="t" x="226" y="551.9">Peugeot<tspan x="226" dy="4.5">Automotores</tspan><tspan x="226" dy="4.5">Uruguay</tspan></text></g>
<g id="n_u6"><rect class="b" x="248" y="543" width="38" height="24"/><text class="t" x="267" y="551.9">Peugeot<tspan x="267" dy="4.5">Motors</tspan><tspan x="267" dy="4.5">of America</tspan></text></g>
<g id="n_u7"><rect class="b" x="376" y="543" width="35" height="24"/><text class="t" x="393.5" y="554.2">Peugeot<tspan x="393.5" dy="4.5">México</tspan></text></g>
<g id="n_u8"><rect class="b" x="420" y="543" width="40" height="24"/><text class="t" x="440" y="551.9">Peugeot<tspan x="440" dy="4.5">Venezuela</tspan><tspan x="440" dy="4.5">SA</tspan></text></g>
<g id="n_u9"><rect class="b" x="464" y="543" width="36" height="24"/><text class="t" x="482" y="554.2">Peugeot<tspan x="482" dy="4.5">Paraguay</tspan></text></g>
<g id="n_u10"><rect class="b" x="506" y="543" width="37" height="24"/><text class="t" x="524.5" y="554.2">Peugeot<tspan x="524.5" dy="4.5">Colombia</tspan></text></g>

<g id="n_v1"><rect class="b" x="28" y="610" width="42" height="14"/><text class="t" x="49" y="618.4">CIA Peugeot</text></g>
<g id="n_v2"><rect class="b" x="78" y="607" width="37" height="25"/><text class="t" x="96.5" y="616.4">Peugeot<tspan x="96.5" dy="4.5">Nigeria</tspan><tspan x="96.5" dy="4.5">Limited</tspan></text></g>
<g id="n_v3"><rect class="o" x="120" y="607" width="38" height="25"/><text class="t" x="139" y="618.7">Peugeot<tspan x="139" dy="4.5">Algérie</tspan></text></g>
<g id="n_v4"><rect class="b" x="160" y="607" width="38" height="25"/><text class="t" x="179" y="616.4">SAFO<tspan x="179" dy="4.5">Maroc</tspan><tspan x="179" dy="4.5">Peugeot</tspan></text></g>
<g id="n_v5"><rect class="b" x="200" y="607" width="40" height="25"/><text class="t" x="220" y="616.4">Stafim<tspan x="220" dy="4.5">Tunisie</tspan><tspan x="220" dy="4.5">Peugeot</tspan></text></g>
<g id="n_v6"><rect class="b" x="243" y="607" width="40" height="25"/><text class="t" x="263" y="618.7">Peugeot<tspan x="263" dy="4.5">Égypte</tspan></text></g>
<g id="n_v7"><rect class="b" x="335" y="607" width="37" height="25"/><text class="t" x="353.5" y="616.4">Peugeot<tspan x="353.5" dy="4.5">Japan</tspan><tspan x="353.5" dy="4.5">Co</tspan></text></g>
<g id="n_v8"><rect class="b" x="378" y="607" width="37" height="25"/><text class="t" x="396.5" y="616.4">Dongfeng<tspan x="396.5" dy="4.5">Peugeot</tspan><tspan x="396.5" dy="4.5">Citroën</tspan></text></g>
<g id="n_v9"><rect class="b" x="420" y="607" width="38" height="25"/><text class="t" x="439" y="616.4">Peugeot<tspan x="439" dy="4.5">Citroën</tspan><tspan x="439" dy="4.5">Asia</tspan></text></g>
<g id="n_v10"><rect class="b" x="462" y="607" width="38" height="25"/><text class="t" x="481" y="616.4">Peugeot<tspan x="481" dy="4.5">Malaysia</tspan><tspan x="481" dy="4.5">Sdn Bhd</tspan></text></g>
<g id="n_v11"><rect class="b" x="503" y="607" width="37" height="25"/><text class="t" x="521.5" y="616.4">Peugeot<tspan x="521.5" dy="4.5">Taiwan</tspan><tspan x="521.5" dy="4.5">Co</tspan></text></g>
<g id="n_v12"><rect class="b" x="545" y="607" width="40" height="25"/><text class="t" x="565" y="618.7">Peugeot<tspan x="565" dy="4.5">Thailand</tspan></text></g>
<g id="n_v13"><rect class="b" x="335" y="652" width="37" height="23"/><text class="t" x="353.5" y="662.7">Peugeot<tspan x="353.5" dy="4.5">Korea</tspan></text></g>
<g id="n_v14"><rect class="b" x="378" y="652" width="37" height="23"/><text class="t" x="396.5" y="660.4">Peugeot<tspan x="396.5" dy="4.5">India</tspan><tspan x="396.5" dy="4.5">Ltd</tspan></text></g>
<g id="n_v15"><rect class="w" x="420" y="652" width="38" height="23"/><text class="t" x="439" y="662.7">Peugeot<tspan x="439" dy="4.5">Singapore</tspan></text></g>
<g id="n_v16"><rect class="b" x="462" y="652" width="38" height="23"/><text class="t" x="481" y="662.7">Peugeot<tspan x="481" dy="4.5">Australia</tspan></text></g>

<g id="n_x1"><rect class="b" x="205" y="712" width="38" height="22"/><text class="t" x="224" y="722.2">Peugeot<tspan x="224" dy="4.5">Turquie</tspan></text></g>
<g id="n_x2"><rect class="b" x="246" y="712" width="40" height="22"/><text class="t" x="266" y="722.2">Peugeot<tspan x="266" dy="4.5">Iran</tspan></text></g>
<g id="n_x3"><rect class="w" x="336" y="712" width="42" height="22"/><line x1="336" y1="723" x2="378" y2="723" stroke="#8a8a8a" stroke-width=".6"/><text class="t" x="357" y="717.5">Peugeot<tspan x="357" dy="4.5">Pologne</tspan><tspan x="357" dy="6">2001</tspan></text></g>
<g id="n_x4"><rect class="w" x="380" y="712" width="42" height="22"/><line x1="380" y1="723" x2="422" y2="723" stroke="#8a8a8a" stroke-width=".6"/><text class="t" x="401" y="717.5">Peugeot<tspan x="401" dy="4.5">Russie</tspan><tspan x="401" dy="6">2001</tspan></text></g>
<g id="n_x5"><rect class="w" x="424" y="712" width="52" height="22"/><line x1="424" y1="723" x2="476" y2="723" stroke="#8a8a8a" stroke-width=".6"/><text class="t" x="450" y="717.5">Peugeot<tspan x="450" dy="4.5">Ukraine</tspan><tspan x="450" dy="6">2001</tspan></text></g>
<g id="n_x6"><rect class="b" x="20" y="698" width="40" height="37"/><text class="t" x="40" y="708.9">Peugeot<tspan x="40" dy="4.5">Automobiles</tspan><tspan x="40" dy="4.5">Nigeria</tspan><tspan x="40" dy="4.5">Peugeot Sud</tspan><tspan x="40" dy="4.5">Afrique</tspan></text></g>
<g id="n_x7"><rect class="w" x="88" y="707" width="34" height="20"/><text class="t" x="105" y="716.2">Peugeot<tspan x="105" dy="4.5">Kenya</tspan></text></g>

<g id="legend">
<rect class="b" x="700" y="500" width="38" height="22"/><text class="lg" x="748" y="509">Sociétés consolidées</text><text class="lg" x="748" y="515">par intégration globale</text>
<rect class="o" x="700" y="530" width="38" height="22"/><text class="lg" x="748" y="542.5">Sociétés mises en équivalence</text>
<rect class="d" x="700" y="560" width="38" height="22"/><text class="lg" x="748" y="569.5">Sociétés intégrées</text><text class="lg" x="748" y="575.5">proportionnellement</text>
<rect class="w" x="700" y="590" width="38" height="22"/><text class="lg" x="748" y="602.5">Sociétés non consolidées</text>
<text class="lg" x="736" y="629">⊥</text><text class="lg" x="745" y="629">et filiales</text>
</g>

<g id="notes">
<text class="fn" x="700" y="679">(1) Peugeot Motors UK 7,7 % : des actions émises par 38 filiales</text>
<text class="fn" x="706" y="685">ainsi qu'une fraction des actions auto-détenues par 38 filiales</text>
<text class="fn" x="706" y="691">à pourcentage : 99,99 % de Peugeot Motors UK détenues entre 31 à 35</text>
<text class="fn" x="700" y="697">(2) Peugeot Motors UK 2,7 % des actions émises par filiales</text>
<text class="fn" x="706" y="703">ainsi qu'une fraction des actions auto-détenues par filiales</text>
<text class="fn" x="706" y="709">à pourcentage : 99,99 % de Peugeot Motors Maroc soit 42,7 %</text>
<text class="fn" x="700" y="715">(3) SPOROTOP : société d'une entité dans la société filiale Peugeot</text>
<text class="fn" x="706" y="721">SPOROTOP est devenue Peugeot Real Group à compter du 1er janvier 2000</text>
</g>
</svg>
